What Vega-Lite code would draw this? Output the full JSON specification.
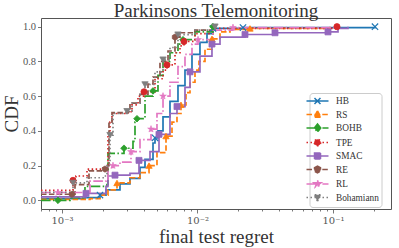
{
  "$schema": "https://vega.github.io/schema/vega-lite/v6.json",
  "width": 350,
  "height": 191,
  "autosize": "none",
  "padding": {"left": 41, "top": 18, "right": 8, "bottom": 39},
  "background": "white",
  "config": {
    "view": {"stroke": "#555555", "strokeWidth": 1},
    "font": "Liberation Serif"
  },
  "title": {"text": "Parkinsons Telemonitoring", "font": "Liberation Serif", "fontSize": 19, "fontWeight": "normal", "color": "#333333", "offset": -3, "anchor": "middle", "frame": "group"},
  "data": {"values": [
    {"s":"HB","x":0.0007,"y":0.01,"m":0},
    {"s":"HB","x":0.001478,"y":0.015,"m":0},
    {"s":"HB","x":0.001907,"y":0.03,"m":1},
    {"s":"HB","x":0.002112,"y":0.06,"m":0},
    {"s":"HB","x":0.002679,"y":0.095,"m":0},
    {"s":"HB","x":0.003176,"y":0.126,"m":0},
    {"s":"HB","x":0.003764,"y":0.19,"m":0},
    {"s":"HB","x":0.004099,"y":0.236,"m":0},
    {"s":"HB","x":0.004696,"y":0.33,"m":0},
    {"s":"HB","x":0.004858,"y":0.36,"m":1},
    {"s":"HB","x":0.005111,"y":0.40,"m":0},
    {"s":"HB","x":0.005566,"y":0.48,"m":0},
    {"s":"HB","x":0.006266,"y":0.57,"m":0},
    {"s":"HB","x":0.007179,"y":0.66,"m":0},
    {"s":"HB","x":0.008086,"y":0.75,"m":0},
    {"s":"HB","x":0.009108,"y":0.84,"m":0},
    {"s":"HB","x":0.01043,"y":0.91,"m":0},
    {"s":"HB","x":0.01175,"y":0.96,"m":0},
    {"s":"HB","x":0.01301,"y":0.99,"m":1},
    {"s":"HB","x":0.02167,"y":0.995,"m":1},
    {"s":"HB","x":0.2042,"y":1.0,"m":1},

    {"s":"RS","x":0.0007,"y":0.005,"m":0},
    {"s":"RS","x":0.001609,"y":0.01,"m":0},
    {"s":"RS","x":0.001907,"y":0.03,"m":0},
    {"s":"RS","x":0.002185,"y":0.06,"m":0},
    {"s":"RS","x":0.002546,"y":0.10,"m":1},
    {"s":"RS","x":0.003176,"y":0.13,"m":0},
    {"s":"RS","x":0.003764,"y":0.16,"m":0},
    {"s":"RS","x":0.004387,"y":0.20,"m":1},
    {"s":"RS","x":0.005024,"y":0.275,"m":0},
    {"s":"RS","x":0.005857,"y":0.37,"m":1},
    {"s":"RS","x":0.006484,"y":0.45,"m":0},
    {"s":"RS","x":0.007058,"y":0.50,"m":0},
    {"s":"RS","x":0.007554,"y":0.55,"m":1},
    {"s":"RS","x":0.008225,"y":0.62,"m":0},
    {"s":"RS","x":0.008806,"y":0.68,"m":0},
    {"s":"RS","x":0.009583,"y":0.75,"m":0},
    {"s":"RS","x":0.01026,"y":0.80,"m":0},
    {"s":"RS","x":0.01136,"y":0.87,"m":0},
    {"s":"RS","x":0.01279,"y":0.93,"m":1},
    {"s":"RS","x":0.01466,"y":0.97,"m":0},
    {"s":"RS","x":0.01738,"y":0.985,"m":0},
    {"s":"RS","x":0.02441,"y":0.99,"m":1},
    {"s":"RS","x":0.09505,"y":1.0,"m":0},

    {"s":"BOHB","x":0.0007,"y":0.0,"m":0},
    {"s":"BOHB","x":0.000934,"y":0.0,"m":1},
    {"s":"BOHB","x":0.001146,"y":0.015,"m":0},
    {"s":"BOHB","x":0.001478,"y":0.08,"m":0},
    {"s":"BOHB","x":0.002148,"y":0.09,"m":0},
    {"s":"BOHB","x":0.002185,"y":0.27,"m":0},
    {"s":"BOHB","x":0.002868,"y":0.30,"m":1},
    {"s":"BOHB","x":0.003342,"y":0.34,"m":0},
    {"s":"BOHB","x":0.003458,"y":0.45,"m":0},
    {"s":"BOHB","x":0.003577,"y":0.47,"m":1},
    {"s":"BOHB","x":0.004099,"y":0.60,"m":0},
    {"s":"BOHB","x":0.004696,"y":0.63,"m":1},
    {"s":"BOHB","x":0.005111,"y":0.72,"m":0},
    {"s":"BOHB","x":0.005566,"y":0.80,"m":0},
    {"s":"BOHB","x":0.006266,"y":0.85,"m":0},
    {"s":"BOHB","x":0.007179,"y":0.90,"m":0},
    {"s":"BOHB","x":0.007816,"y":0.925,"m":1},
    {"s":"BOHB","x":0.009583,"y":0.97,"m":0},
    {"s":"BOHB","x":0.01301,"y":1.0,"m":1},

    {"s":"TPE","x":0.0007,"y":0.057,"m":0},
    {"s":"TPE","x":0.001206,"y":0.115,"m":1},
    {"s":"TPE","x":0.001268,"y":0.14,"m":0},
    {"s":"TPE","x":0.00153,"y":0.18,"m":0},
    {"s":"TPE","x":0.002007,"y":0.185,"m":0},
    {"s":"TPE","x":0.002148,"y":0.20,"m":0},
    {"s":"TPE","x":0.002185,"y":0.38,"m":0},
    {"s":"TPE","x":0.002261,"y":0.45,"m":0},
    {"s":"TPE","x":0.002339,"y":0.50,"m":0},
    {"s":"TPE","x":0.00307,"y":0.51,"m":0},
    {"s":"TPE","x":0.003286,"y":0.55,"m":0},
    {"s":"TPE","x":0.003639,"y":0.60,"m":0},
    {"s":"TPE","x":0.00403,"y":0.625,"m":1},
    {"s":"TPE","x":0.004858,"y":0.70,"m":0},
    {"s":"TPE","x":0.005566,"y":0.75,"m":0},
    {"s":"TPE","x":0.005957,"y":0.78,"m":1},
    {"s":"TPE","x":0.006823,"y":0.85,"m":0},
    {"s":"TPE","x":0.007427,"y":0.89,"m":0},
    {"s":"TPE","x":0.00795,"y":0.915,"m":1},
    {"s":"TPE","x":0.009583,"y":0.96,"m":0},
    {"s":"TPE","x":0.01301,"y":0.99,"m":0},
    {"s":"TPE","x":0.107,"y":1.0,"m":1},

    {"s":"SMAC","x":0.0007,"y":0.02,"m":0},
    {"s":"SMAC","x":0.001504,"y":0.04,"m":1},
    {"s":"SMAC","x":0.002112,"y":0.08,"m":0},
    {"s":"SMAC","x":0.002185,"y":0.14,"m":0},
    {"s":"SMAC","x":0.002461,"y":0.145,"m":1},
    {"s":"SMAC","x":0.003176,"y":0.155,"m":0},
    {"s":"SMAC","x":0.003701,"y":0.23,"m":1},
    {"s":"SMAC","x":0.004462,"y":0.28,"m":0},
    {"s":"SMAC","x":0.005199,"y":0.38,"m":1},
    {"s":"SMAC","x":0.006266,"y":0.50,"m":0},
    {"s":"SMAC","x":0.007058,"y":0.54,"m":1},
    {"s":"SMAC","x":0.008086,"y":0.65,"m":0},
    {"s":"SMAC","x":0.008806,"y":0.74,"m":1},
    {"s":"SMAC","x":0.01043,"y":0.83,"m":0},
    {"s":"SMAC","x":0.01279,"y":0.90,"m":1},
    {"s":"SMAC","x":0.01466,"y":0.94,"m":0},
    {"s":"SMAC","x":0.02242,"y":0.955,"m":1},
    {"s":"SMAC","x":0.03733,"y":0.965,"m":1},
    {"s":"SMAC","x":0.09187,"y":0.97,"m":1},
    {"s":"SMAC","x":0.1089,"y":0.99,"m":0},
    {"s":"SMAC","x":0.129,"y":1.0,"m":0},

    {"s":"RE","x":0.0007,"y":0.035,"m":0},
    {"s":"RE","x":0.001185,"y":0.035,"m":1},
    {"s":"RE","x":0.001247,"y":0.09,"m":0},
    {"s":"RE","x":0.001556,"y":0.09,"m":0},
    {"s":"RE","x":0.001582,"y":0.17,"m":0},
    {"s":"RE","x":0.002077,"y":0.18,"m":1},
    {"s":"RE","x":0.002185,"y":0.20,"m":0},
    {"s":"RE","x":0.002223,"y":0.45,"m":0},
    {"s":"RE","x":0.002339,"y":0.505,"m":0},
    {"s":"RE","x":0.00307,"y":0.51,"m":0},
    {"s":"RE","x":0.003176,"y":0.56,"m":0},
    {"s":"RE","x":0.003764,"y":0.61,"m":0},
    {"s":"RE","x":0.004313,"y":0.67,"m":0},
    {"s":"RE","x":0.004696,"y":0.71,"m":0},
    {"s":"RE","x":0.005288,"y":0.80,"m":0},
    {"s":"RE","x":0.00606,"y":0.86,"m":0},
    {"s":"RE","x":0.006823,"y":0.94,"m":1},
    {"s":"RE","x":0.007427,"y":0.965,"m":0},
    {"s":"RE","x":0.009583,"y":0.98,"m":0},
    {"s":"RE","x":0.01301,"y":1.0,"m":0},

    {"s":"RL","x":0.0007,"y":0.045,"m":0},
    {"s":"RL","x":0.000934,"y":0.045,"m":1},
    {"s":"RL","x":0.001609,"y":0.11,"m":0},
    {"s":"RL","x":0.002112,"y":0.115,"m":0},
    {"s":"RL","x":0.002185,"y":0.19,"m":0},
    {"s":"RL","x":0.002379,"y":0.20,"m":1},
    {"s":"RL","x":0.002679,"y":0.22,"m":0},
    {"s":"RL","x":0.003231,"y":0.28,"m":1},
    {"s":"RL","x":0.003764,"y":0.35,"m":0},
    {"s":"RL","x":0.004539,"y":0.41,"m":1},
    {"s":"RL","x":0.005024,"y":0.50,"m":0},
    {"s":"RL","x":0.005566,"y":0.60,"m":1},
    {"s":"RL","x":0.006266,"y":0.68,"m":0},
    {"s":"RL","x":0.007179,"y":0.77,"m":0},
    {"s":"RL","x":0.008086,"y":0.84,"m":0},
    {"s":"RL","x":0.009108,"y":0.90,"m":0},
    {"s":"RL","x":0.01009,"y":0.925,"m":1},
    {"s":"RL","x":0.01301,"y":0.98,"m":0},
    {"s":"RL","x":0.01828,"y":0.995,"m":1},
    {"s":"RL","x":0.1089,"y":1.0,"m":0},

    {"s":"Bohamiann","x":0.0007,"y":0.046,"m":0},
    {"s":"Bohamiann","x":0.001206,"y":0.10,"m":1},
    {"s":"Bohamiann","x":0.00153,"y":0.13,"m":0},
    {"s":"Bohamiann","x":0.002042,"y":0.14,"m":0},
    {"s":"Bohamiann","x":0.002148,"y":0.20,"m":0},
    {"s":"Bohamiann","x":0.002261,"y":0.375,"m":1},
    {"s":"Bohamiann","x":0.002379,"y":0.50,"m":0},
    {"s":"Bohamiann","x":0.003018,"y":0.513,"m":1},
    {"s":"Bohamiann","x":0.003286,"y":0.56,"m":0},
    {"s":"Bohamiann","x":0.003764,"y":0.62,"m":0},
    {"s":"Bohamiann","x":0.004099,"y":0.667,"m":1},
    {"s":"Bohamiann","x":0.004858,"y":0.74,"m":0},
    {"s":"Bohamiann","x":0.005566,"y":0.81,"m":1},
    {"s":"Bohamiann","x":0.006266,"y":0.88,"m":0},
    {"s":"Bohamiann","x":0.007179,"y":0.954,"m":1},
    {"s":"Bohamiann","x":0.009583,"y":0.98,"m":0},
    {"s":"Bohamiann","x":0.01346,"y":1.0,"m":1}
  ]},
  "encoding": {
    "x": {
      "field": "x", "type": "quantitative",
      "scale": {"type": "log", "domain": [0.0007, 0.268], "nice": false},
      "axis": {
        "values": [0.0007,0.0008,0.0009,0.001,0.002,0.003,0.004,0.005,0.006,0.007,0.008,0.009,0.01,0.02,0.03,0.04,0.05,0.06,0.07,0.08,0.09,0.1,0.2],
        "labelExpr": "abs(datum.value-0.001)<1e-6 ? '10⁻³' : abs(datum.value-0.01)<1e-5 ? '10⁻²' : abs(datum.value-0.1)<1e-4 ? '10⁻¹' : ''",
        "tickSize": {"condition": {"test": "abs(log(datum.value)/LN10 - round(log(datum.value)/LN10)) < 0.01", "value": 4}, "value": 2},
        "tickColor": "#555555", "tickWidth": 0.8,
        "domain": false, "grid": false, "labelOverlap": false, "labelFlush": false,
        "labelFont": "DejaVu Serif", "labelFontSize": 10, "labelColor": "#555555", "labelPadding": 2,
        "title": "final test regret", "titleFont": "Liberation Serif", "titleFontSize": 19, "titleFontWeight": "normal", "titleColor": "#333333",
        "titleX": 175, "titleY": 33, "titleBaseline": "alphabetic", "titleAlign": "center"
      }
    },
    "y": {
      "field": "y", "type": "quantitative",
      "scale": {"domain": [-0.05, 1.05], "nice": false, "zero": false},
      "axis": {
        "values": [0, 0.2, 0.4, 0.6, 0.8, 1.0], "format": ".1f",
        "tickSize": 3.5, "tickColor": "#555555", "tickWidth": 0.8,
        "domain": false, "grid": false,
        "labelFont": "Liberation Serif", "labelFontSize": 10.5, "labelColor": "#555555", "labelPadding": 2,
        "title": "CDF", "titleFont": "Liberation Serif", "titleFontSize": 19, "titleFontWeight": "normal", "titleColor": "#333333",
        "titleX": -24, "titleY": 95.5, "titleAngle": 270, "titleBaseline": "alphabetic", "titleAlign": "center"
      }
    }
  },
  "layer": [
    {
      "mark": {"type": "line", "interpolate": "step-after", "strokeWidth": 1.7, "clip": true},
      "encoding": {
        "color": {
          "field": "s", "type": "nominal",
          "scale": {"domain": ["HB","RS","BOHB","TPE","SMAC","RE","RL","Bohamiann"], "range": ["#1f77b4","#ff7f0e","#2ca02c","#d62728","#9467bd","#8c564b","#e377c2","#7f7f7f"]},
          "legend": {
            "orient": "none", "legendX": 268.5, "legendY": 75, "title": null,
            "padding": 2, "fillColor": "rgba(255,255,255,0.85)", "strokeColor": "#cccccc", "cornerRadius": 3,
            "rowPadding": 0.5, "symbolSize": 100, "symbolStrokeWidth": 1.5, "labelOffset": 12.5,
            "labelFont": "Liberation Serif", "labelFontSize": 9.3, "labelColor": "#333333",
            "encode": {
              "symbols": {
                "update": {
                  "shape": {"signal": "datum.value==='HB'?'M-2.2,0L2.2,0M-0.6,-0.6L0.6,0.6M-0.6,0.6L0.6,-0.6':datum.value==='RS'?'M-2.2,0L2.2,0M0,-0.75L0.7,0.55L-0.7,0.55Z':datum.value==='BOHB'?'M-2.2,0L2.2,0M0,-0.8L0.65,0L0,0.8L-0.65,0Z':datum.value==='TPE'?'M-2.2,0L2.2,0M0.65,0A0.65,0.65,0,1,1,-0.65,0A0.65,0.65,0,1,1,0.65,0Z':datum.value==='SMAC'?'M-2.2,0L2.2,0M-0.6,-0.6L0.6,-0.6L0.6,0.6L-0.6,0.6Z':datum.value==='RE'?'M-2.2,0L2.2,0M0,-0.7L0.6,-0.35L0.6,0.35L0,0.7L-0.6,0.35L-0.6,-0.35Z':datum.value==='RL'?'M-2.2,0L2.2,0M0,-0.75L0.168,-0.231L0.713,-0.232L0.271,0.088L0.441,0.607L0,0.285L-0.441,0.607L-0.271,0.088L-0.713,-0.232L-0.168,-0.231Z':'M-2.2,0L2.2,0M0,0.75L0.7,-0.55L-0.7,-0.55Z'"},
                  "strokeDash": {"signal": "(datum.value==='RS'||datum.value==='RE')?[5.5,2.4]:(datum.value==='BOHB'||datum.value==='RL')?[9.6,2.4,1.5,2.4]:(datum.value==='TPE'||datum.value==='Bohamiann')?[1.5,2.5]:[1,0]"},
                  "fill": {"signal": "scale('color', datum.value)"},
                  "stroke": {"signal": "scale('color', datum.value)"},
                  "size": {"value": 100},
                  "opacity": {"value": 1}
                }
              }
            }
          }
        },
        "strokeDash": {
          "field": "s", "type": "nominal", "legend": null,
          "scale": {"domain": ["HB","RS","BOHB","TPE","SMAC","RE","RL","Bohamiann"], "range": [[1,0],[5.5,2.4],[9.6,2.4,1.5,2.4],[1.5,2.5],[1,0],[5.5,2.4],[9.6,2.4,1.5,2.4],[1.5,2.5]]}
        }
      }
    },
    {"transform": [{"filter": "datum.m == 1 && datum.s === 'HB'"}], "mark": {"type": "point", "shape": "M-1,-1L1,1M-1,1L1,-1", "filled": false, "size": 40, "strokeWidth": 1.2, "opacity": 1, "color": "#1f77b4", "clip": true}, "encoding": {}},
    {"transform": [{"filter": "datum.m == 1 && datum.s === 'RS'"}], "mark": {"type": "point", "shape": "triangle-up", "filled": true, "size": 40, "strokeWidth": 0.8, "stroke": "#ff7f0e", "opacity": 1, "color": "#ff7f0e", "clip": true}, "encoding": {}},
    {"transform": [{"filter": "datum.m == 1 && datum.s === 'BOHB'"}], "mark": {"type": "point", "shape": "diamond", "filled": true, "size": 44, "strokeWidth": 0.8, "stroke": "#2ca02c", "opacity": 1, "color": "#2ca02c", "clip": true}, "encoding": {}},
    {"transform": [{"filter": "datum.m == 1 && datum.s === 'TPE'"}], "mark": {"type": "point", "shape": "circle", "filled": true, "size": 38, "strokeWidth": 0.8, "stroke": "#d62728", "opacity": 1, "color": "#d62728", "clip": true}, "encoding": {}},
    {"transform": [{"filter": "datum.m == 1 && datum.s === 'SMAC'"}], "mark": {"type": "point", "shape": "square", "filled": true, "size": 36, "strokeWidth": 0.8, "stroke": "#9467bd", "opacity": 1, "color": "#9467bd", "clip": true}, "encoding": {}},
    {"transform": [{"filter": "datum.m == 1 && datum.s === 'RE'"}], "mark": {"type": "point", "shape": "M0,-1L0.866,-0.5L0.866,0.5L0,1L-0.866,0.5L-0.866,-0.5Z", "filled": true, "size": 38, "strokeWidth": 0.8, "stroke": "#8c564b", "opacity": 1, "color": "#8c564b", "clip": true}, "encoding": {}},
    {"transform": [{"filter": "datum.m == 1 && datum.s === 'RL'"}], "mark": {"type": "point", "shape": "M0,-1L0.2234,-0.3074L0.9511,-0.309L0.3614,0.1174L0.5878,0.809L0,0.38L-0.5878,0.809L-0.3614,0.1174L-0.9511,-0.309L-0.2234,-0.3074Z", "filled": true, "size": 50, "strokeWidth": 0.6, "stroke": "#e377c2", "opacity": 1, "color": "#e377c2", "clip": true}, "encoding": {}},
    {"transform": [{"filter": "datum.m == 1 && datum.s === 'Bohamiann'"}], "mark": {"type": "point", "shape": "triangle-down", "filled": true, "size": 40, "strokeWidth": 0.8, "stroke": "#7f7f7f", "opacity": 1, "color": "#7f7f7f", "clip": true}, "encoding": {}}
  ]
}
